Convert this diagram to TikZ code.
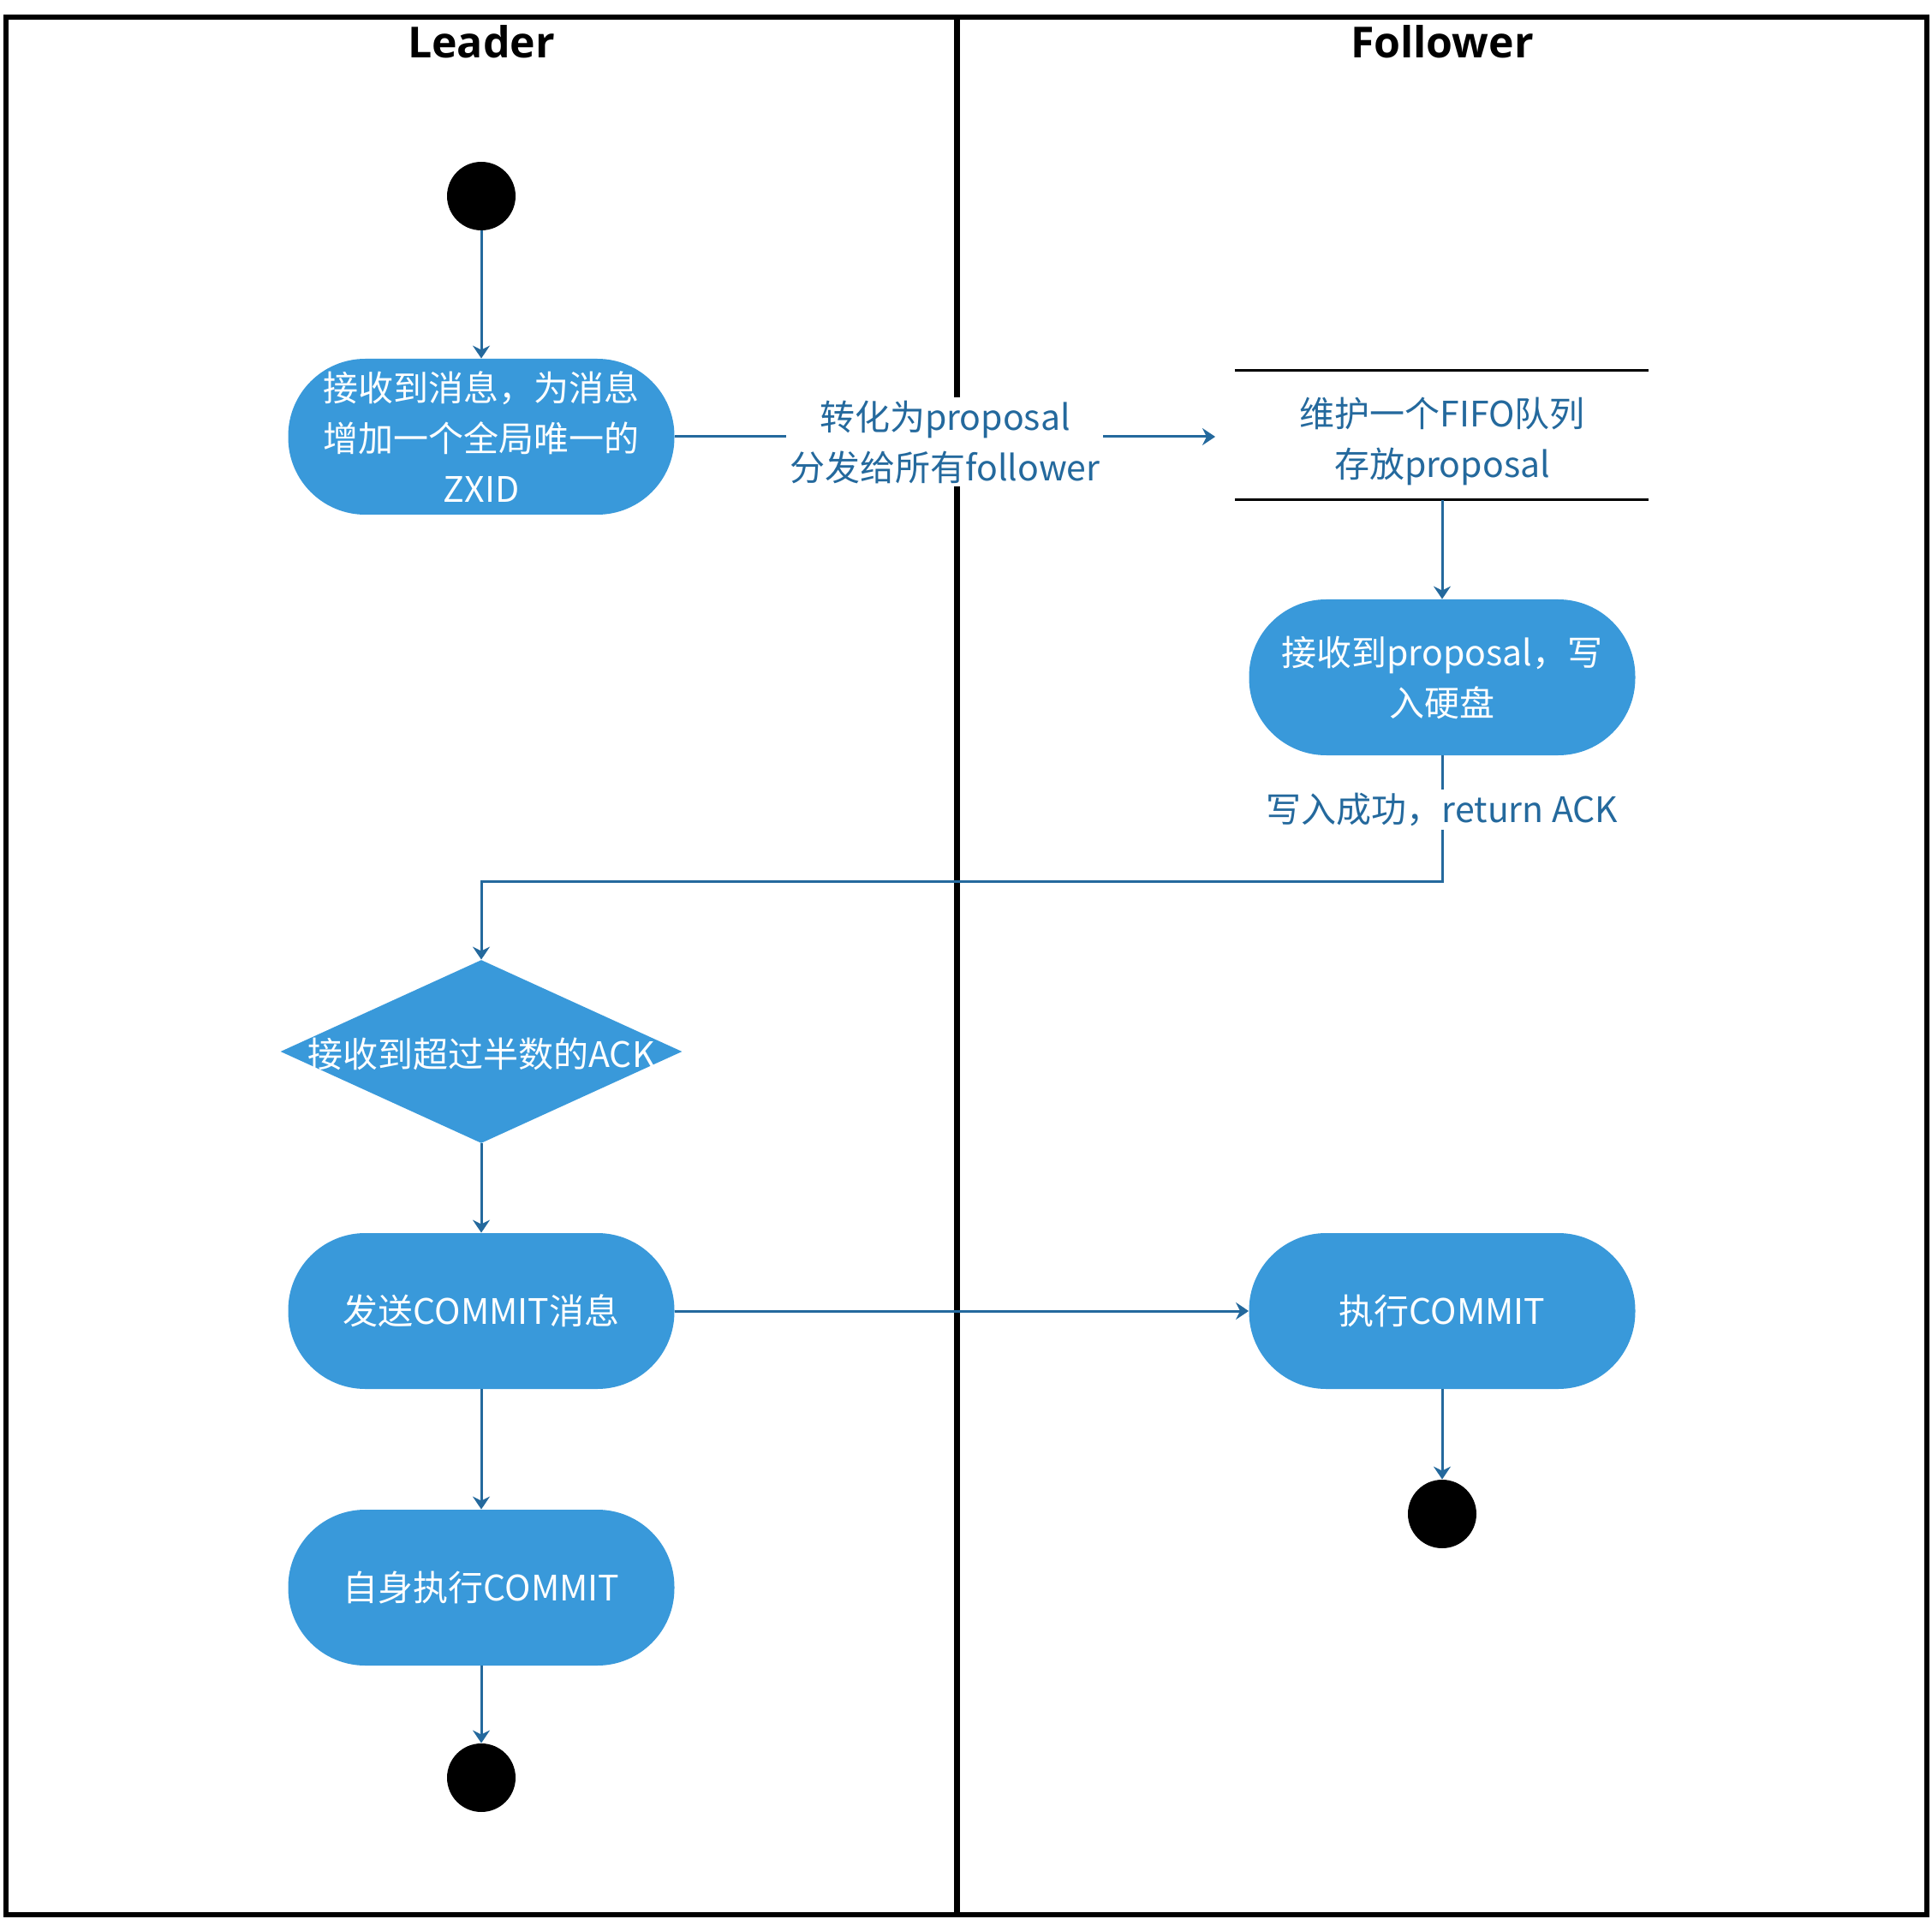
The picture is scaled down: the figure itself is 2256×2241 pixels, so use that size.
\documentclass[tikz,border=0pt]{standalone}
\usepackage{fontspec}
\setmainfont{Noto Sans CJK SC}
\newfontfamily\titlefont{Open Sans}
\usetikzlibrary{shapes.geometric,arrows.meta}
\definecolor{boxblue}{HTML}{3999DA}
\definecolor{linkblue}{HTML}{24699D}
\tikzset{
  lane/.style={draw=black,line width=3pt},
  divider/.style={draw=black,line width=3.5pt},
  lanetitle/.style={font=\titlefont\bfseries\fontsize{25pt}{30pt}\selectfont,inner sep=0pt},
  stadium/.style={fill=boxblue,draw=none,rounded corners=45pt,minimum width=225.5pt,minimum height=91pt,
    text=white,align=center,font=\fontsize{20.5pt}{29.5pt}\selectfont,inner sep=0pt},
  startdot/.style={circle,fill=black,minimum size=40pt,inner sep=0pt},
  arr/.style={draw=linkblue,line width=1.5pt,-{Stealth[length=7.5pt,width=10pt,inset=2.5pt]}},
  lbl/.style={fill=white,text=linkblue,align=center,font=\fontsize{20.5pt}{29.5pt}\selectfont,inner sep=2pt},
  plaintext/.style={text=linkblue,align=center,font=\fontsize{20.5pt}{29.5pt}\selectfont,inner sep=0pt},
  rule/.style={draw=black,line width=1.5pt},
}
\begin{document}
\begin{tikzpicture}[x=0.5pt,y=-0.5pt]
\useasboundingbox (0,0) rectangle (2256,2241);
% swimlanes
\draw[lane] (7,20) rectangle (2250,2236);
\draw[divider] (1117.5,20) -- (1117.5,2236);
\node[lanetitle] (tl) at (562,49) {Leader};
\node[lanetitle] (tf) at (1684,49) {Follower};
% leader nodes
\node[startdot] (s1) at (562,229) {};
\node[stadium] (b1) at (562,510) {接收到消息，为消息\\增加一个全局唯一的\\ZXID};
\node[diamond,fill=boxblue,minimum width=234.5pt,minimum height=107pt,inner sep=0pt] (d) at (562,1228) {};
\node[text=white,font=\fontsize{20.5pt}{29.5pt}\selectfont,inner sep=0pt] (dt) at (562,1231) {接收到超过半数的ACK};
\node[stadium] (b3) at (562,1531) {发送COMMIT消息};
\node[stadium] (b5) at (562,1854) {自身执行COMMIT};
\node[startdot] (e1) at (562,2076) {};
% follower nodes
\coordinate (qnw) at (1442,433);
\coordinate (qne) at (1925,433);
\coordinate (qsw) at (1442,584);
\coordinate (qse) at (1925,584);
\coordinate (qs) at (1684,584);
\node[plaintext] (q) at (1684,515) {维护一个FIFO队列\\存放proposal};
\draw[rule] (qnw) -- (qne);
\draw[rule] (qsw) -- (qse);
\node[stadium] (b2) at (1684,791) {接收到proposal，写\\入硬盘};
\node[stadium] (b4) at (1684,1531) {执行COMMIT};
\node[startdot] (e2) at (1684,1768) {};
% connectors
\coordinate (qin) at (1419,510);
\coordinate (k1) at (1684,1029);
\coordinate (k2) at (562,1029);
\draw[arr] (s1) -- (b1);
\draw[arr] (b1.east) -- node[lbl,pos=0.5,yshift=-3pt]{转化为proposal\\分发给所有follower} (qin);
\draw[arr] (qs) -- (b2.north);
\draw[arr] (b2.south) -- node[lbl,pos=0.43]{写入成功，return ACK} (k1) -- (k2) -- (d.north);
\draw[arr] (d.south) -- (b3.north);
\draw[arr] (b3.east) -- (b4.west);
\draw[arr] (b3.south) -- (b5.north);
\draw[arr] (b5.south) -- (e1);
\draw[arr] (b4.south) -- (e2);
\end{tikzpicture}
\end{document}
